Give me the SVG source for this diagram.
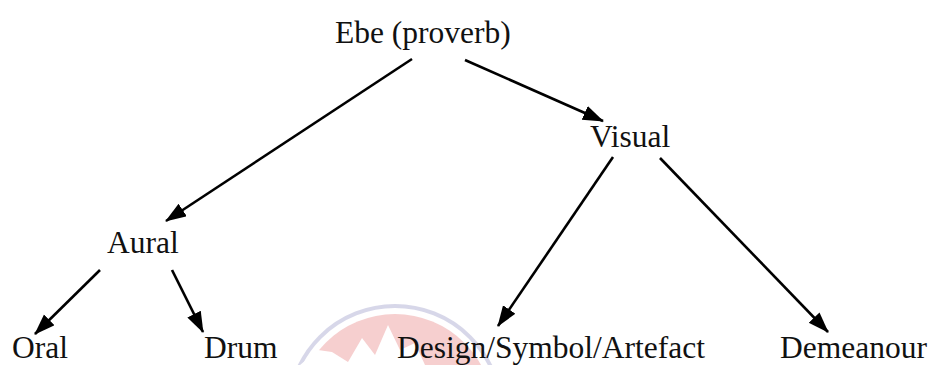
<svg xmlns="http://www.w3.org/2000/svg" width="931" height="365" viewBox="0 0 931 365">
  <style>
    .label { font-family: "Liberation Serif", "Times New Roman", serif; font-size: 31.5px; fill: #111; }
    .edge { stroke: #000; stroke-width: 2.6; fill: none; }
  </style>
  <defs>
    <marker id="arrow" markerUnits="userSpaceOnUse" markerWidth="22" markerHeight="16" refX="20" refY="7.5" orient="auto">
      <path d="M0,0 L21,7.5 L0,15 Z" fill="#000"/>
    </marker>
    <clipPath id="emblem-clip">
      <rect x="0" y="0" width="931" height="365"/>
    </clipPath>
  </defs>

  <rect width="931" height="365" fill="#fff"/>

  <!-- faint emblem in the background -->
  <g id="emblem" clip-path="url(#emblem-clip)" opacity="0.55">
    <circle cx="395" cy="412" r="98" fill="#f0a8a8"/>
    <circle cx="395" cy="412" r="106" fill="none" stroke="#b8b8d8" stroke-width="4"/>
    <path d="M300,365 L318,350 L332,352 L348,362 L362,338 L375,355 L388,325 L400,350 L415,343 L425,365 Z" fill="#fff"/>
  </g>

  <!-- connectors -->
  <g id="connectors">
    <line class="edge" x1="412" y1="59" x2="166" y2="221" marker-end="url(#arrow)"/>
    <line class="edge" x1="465" y1="60" x2="603" y2="121" marker-end="url(#arrow)"/>
    <line class="edge" x1="613" y1="157" x2="498" y2="326" marker-end="url(#arrow)"/>
    <line class="edge" x1="660" y1="158" x2="828" y2="332" marker-end="url(#arrow)"/>
    <line class="edge" x1="100" y1="270" x2="35" y2="334" marker-end="url(#arrow)"/>
    <line class="edge" x1="172" y1="270" x2="203" y2="332" marker-end="url(#arrow)"/>
  </g>

  <!-- nodes -->
  <g id="node-ebe"><text class="label" x="335" y="43">Ebe (proverb)</text></g>
  <g id="node-visual"><text class="label" x="590" y="147">Visual</text></g>
  <g id="node-aural"><text class="label" x="107" y="253">Aural</text></g>
  <g id="node-oral"><text class="label" x="12" y="358">Oral</text></g>
  <g id="node-drum"><text class="label" x="204" y="358">Drum</text></g>
  <g id="node-design"><text class="label" x="397" y="358">Design/Symbol/Artefact</text></g>
  <g id="node-demeanour"><text class="label" x="780" y="358">Demeanour</text></g>
</svg>
